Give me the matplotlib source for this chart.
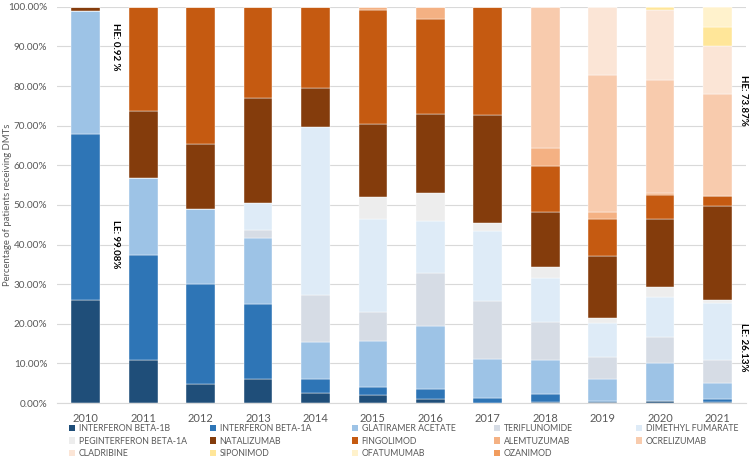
import matplotlib
matplotlib.use("Agg")
from matplotlib import pyplot as plt
from matplotlib.patches import Patch
from matplotlib.ticker import FuncFormatter
import numpy as np

plt.rcParams['font.family'] = ['Lato', 'DejaVu Sans']

years = ["2010", "2011", "2012", "2013", "2014", "2015", "2016", "2017", "2018", "2019", "2020", "2021"]

# share of patients per DMT, in percent, bottom to top of each bar
beta_1b = [26.0, 10.9, 4.8, 6.1, 2.6, 2.0, 1.0, 0.0, 0.3, 0.2, 0.5, 0.2]
beta_1a = [41.9, 26.4, 25.3, 18.8, 3.5, 2.1, 2.5, 1.3, 1.9, 0.3, 0.1, 0.7]
glatiramer = [31.18, 19.4, 19.0, 16.8, 9.2, 11.6, 16.0, 9.8, 8.7, 5.6, 9.4, 4.1]
teriflunomide = [0, 0, 0, 2.0, 12.0, 7.2, 13.2, 14.7, 9.6, 5.6, 6.6, 5.9]
dimethyl_fumarate = [0, 0, 0, 6.8, 42.5, 23.6, 13.3, 17.5, 11.1, 8.4, 10.2, 14.4]
peginterferon = [0, 0, 0, 0, 0, 5.4, 7.0, 2.1, 2.8, 1.3, 2.4, 0.83]
natalizumab = [0.92, 17.0, 16.2, 26.6, 9.7, 18.6, 20.0, 27.3, 13.9, 15.8, 17.2, 23.57]
fingolimod = [0, 26.3, 34.7, 22.9, 20.5, 28.8, 23.9, 27.3, 11.5, 9.3, 6.0, 2.6]
alemtuzumab = [0, 0, 0, 0, 0, 0.7, 3.1, 0, 4.7, 1.6, 0.6, 0]
ocrelizumab = [0, 0, 0, 0, 0, 0, 0, 0, 35.5, 34.6, 28.6, 25.7]
cladribine = [0, 0, 0, 0, 0, 0, 0, 0, 0, 17.3, 17.7, 12.0]
siponimod = [0, 0, 0, 0, 0, 0, 0, 0, 0, 0, 0.7, 5.0]
ofatumumab = [0, 0, 0, 0, 0, 0, 0, 0, 0, 0, 0, 5.0]
ozanimod = [0, 0, 0, 0, 0, 0, 0, 0, 0, 0, 0, 0]

drug_names = ["INTERFERON BETA-1B", "INTERFERON BETA-1A", "GLATIRAMER ACETATE", "TERIFLUNOMIDE",
              "DIMETHYL FUMARATE", "PEGINTERFERON BETA-1A", "NATALIZUMAB", "FINGOLIMOD",
              "ALEMTUZUMAB", "OCRELIZUMAB", "CLADRIBINE", "SIPONIMOD", "OFATUMUMAB", "OZANIMOD"]
series = [beta_1b, beta_1a, glatiramer, teriflunomide, dimethyl_fumarate, peginterferon,
          natalizumab, fingolimod, alemtuzumab, ocrelizumab, cladribine, siponimod,
          ofatumumab, ozanimod]
colors = ["#1f4e79", "#2e75b6", "#9dc3e6", "#d6dce5", "#deebf7", "#ededed",
          "#843c0c", "#c55a11", "#f4b183", "#f8cbad", "#fbe5d6", "#ffe699",
          "#fff2cc", "#f19c5e"]

fig = plt.figure(figsize=(7.5, 4.58), dpi=100)
ax = fig.add_axes([0.076, 0.12, 0.919, 0.865])

x = np.arange(len(years))
bottom = np.zeros(len(years))
for vals, col in zip(series, colors):
    vals = np.array(vals, dtype=float)
    ax.bar(x, vals, 0.5, bottom=bottom, color=col, edgecolor="white", linewidth=0.3, zorder=2)
    bottom += vals

ax.set_xlim(-0.5, len(years) - 0.5)
ax.set_ylim(0, 100)
ax.set_yticks(np.arange(0, 101, 10))
ax.yaxis.set_major_formatter(FuncFormatter(lambda v, p: "%.2f%%" % v))
ax.set_xticks(x)
ax.set_xticklabels(years)
ax.tick_params(axis="x", length=0, labelsize=8, labelcolor="#595959", pad=7)
ax.tick_params(axis="y", length=0, labelsize=7.2, labelcolor="#595959", pad=7)
ax.grid(axis="y", color="#d9d9d9", linewidth=0.8, zorder=0)
for s in ["top", "right", "left"]:
    ax.spines[s].set_visible(False)
ax.spines["bottom"].set_color("#d9d9d9")

# y label sits partly under the tick labels, as in the original
fig.text(3 / 750, 1 - 205 / 458, "Percentage of patients receiving DMTs", rotation=90,
         fontsize=6.8, color="#595959", ha="left", va="center")

# high / low efficacy shares
ax.text(0.51, 90, "HE: 0.92 %", rotation=-90, fontsize=7, fontweight="bold", ha="center", va="center")
ax.text(0.51, 40, "LE: 99.08%", rotation=-90, fontsize=7, fontweight="bold", ha="center", va="center")
ax.text(11.45, 76.5, "HE: 73.87%", rotation=-90, fontsize=7, fontweight="bold", ha="center", va="center")
ax.text(11.45, 14, "LE: 26.13%", rotation=-90, fontsize=7, fontweight="bold", ha="center", va="center")

# legend laid out row by row in five fixed columns
handles = [Patch(facecolor=c) for c in colors]
col_x = [69, 210, 352, 494, 636]
for i, cx in enumerate(col_x):
    idx = list(range(i, len(drug_names), 5))
    fig.legend([handles[j] for j in idx], [drug_names[j] for j in idx],
               loc="upper left", bbox_to_anchor=(cx / 750, 1 - 424 / 458),
               frameon=False, labelcolor="#595959", fontsize=6.3,
               handlelength=0.7, handleheight=0.7, handletextpad=0.4,
               labelspacing=0.4, borderpad=0, borderaxespad=0)

fig.savefig("out.png", dpi=100)
